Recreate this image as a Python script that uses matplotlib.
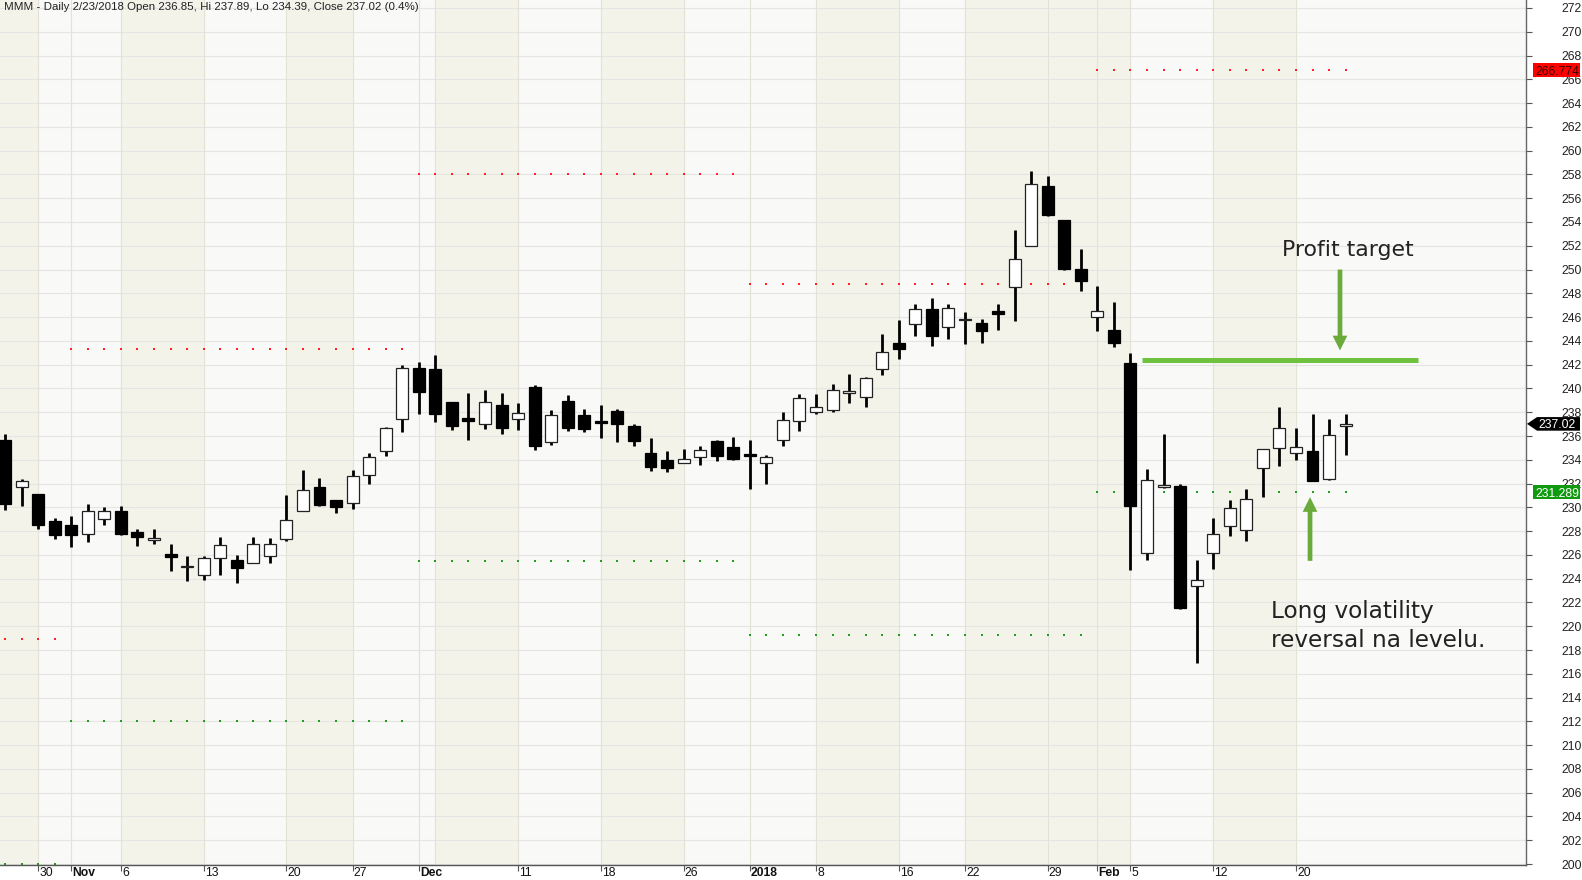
import matplotlib
matplotlib.use("Agg")
import matplotlib.pyplot as plt
import matplotlib.transforms as mtransforms
from matplotlib.patches import Polygon
import numpy as np

title = "MMM - Daily 2/23/2018 Open 236.85, Hi 237.89, Lo 234.39, Close 237.02 (0.4%)"

# daily candles, Oct 26 2017 .. Feb 23 2018 (trading-day index 0..81)
opens = [235.7, 231.7, 231.1, 228.85, 228.5, 227.76, 229.0, 229.7, 227.9, 227.3,
         226.1, 225.0, 224.3, 225.7, 225.6, 225.35, 225.9, 227.35, 229.7, 231.7,
         230.65, 230.4, 232.75, 234.7, 237.45, 241.75, 241.6, 238.85, 237.55, 237.05,
         238.6, 237.45, 240.15, 235.5, 238.95, 237.8, 237.2, 238.1, 236.8, 234.6,
         234.0, 233.7, 234.2, 235.6, 235.1, 234.45, 233.7, 235.65, 237.25, 238.0,
         238.2, 239.6, 239.3, 241.6, 243.85, 245.4, 246.7, 245.2, 245.75, 245.5,
         246.55, 248.55, 252.0, 257.0, 254.15, 250.05, 246.0, 244.95, 242.1, 226.15,
         231.75, 231.8, 223.4, 226.15, 228.4, 228.1, 233.35, 234.95, 234.6, 234.7,
         232.4, 236.85]
highs = [236.2, 232.4, 231.1, 229.1, 229.3, 230.3, 230.05, 230.15, 228.2, 228.15,
         226.9, 225.95, 225.95, 227.5, 226.0, 227.5, 227.4, 231.05, 233.15, 232.5,
         230.65, 233.15, 234.55, 236.75, 242.0, 242.2, 242.85, 238.9, 239.65, 239.85,
         239.6, 238.8, 240.3, 238.2, 239.45, 238.25, 238.6, 238.3, 237.05, 235.85,
         234.7, 234.9, 235.15, 235.7, 235.9, 235.7, 234.4, 238.05, 239.5, 239.5,
         240.35, 241.2, 241.0, 244.6, 245.75, 247.1, 247.6, 247.1, 246.45, 245.8,
         247.1, 253.3, 258.3, 257.85, 254.2, 251.7, 248.6, 247.3, 243.0, 233.25,
         236.15, 231.95, 225.6, 229.1, 230.6, 231.55, 234.9, 238.45, 236.65, 237.85,
         237.4, 237.89]
lows = [229.8, 230.1, 228.2, 227.3, 226.7, 227.1, 228.5, 227.65, 226.75, 226.95,
        224.65, 223.8, 223.85, 224.3, 223.6, 225.35, 225.35, 227.15, 229.7, 230.15,
        229.5, 229.85, 232.0, 234.3, 236.35, 237.85, 237.2, 236.5, 235.65, 236.55,
        236.15, 236.5, 234.8, 235.25, 236.45, 236.3, 235.8, 235.5, 235.15, 233.05,
        233.0, 233.7, 233.55, 233.9, 234.0, 231.55, 232.0, 235.15, 236.45, 237.85,
        238.0, 238.75, 238.4, 241.1, 242.5, 244.45, 243.55, 244.2, 243.7, 243.8,
        244.9, 245.7, 252.0, 254.5, 250.0, 248.2, 244.8, 243.5, 224.7, 225.55,
        231.6, 221.45, 216.95, 224.85, 227.6, 227.2, 230.9, 233.5, 233.95, 232.2,
        232.3, 234.39]
closes = [230.3, 232.2, 228.5, 227.7, 227.7, 229.7, 229.7, 227.8, 227.5, 227.4,
          225.85, 225.05, 225.75, 226.8, 224.9, 226.95, 226.9, 228.95, 231.5, 230.2,
          230.05, 232.6, 234.2, 236.65, 241.75, 239.7, 237.85, 236.85, 237.3, 238.9,
          236.7, 237.95, 235.2, 237.75, 236.65, 236.6, 237.15, 237.0, 235.6, 233.4,
          233.35, 234.1, 234.8, 234.3, 234.05, 234.35, 234.2, 237.35, 239.2, 238.4,
          239.9, 239.8, 240.9, 243.05, 243.3, 246.7, 244.45, 246.75, 245.85, 244.85,
          246.25, 250.9, 257.2, 254.55, 250.05, 249.05, 246.55, 243.8, 230.1, 232.3,
          231.85, 221.5, 223.85, 227.8, 229.95, 230.7, 234.9, 236.65, 235.1, 232.2,
          236.05, 237.02]

tick_pos = [2, 4, 7, 12, 17, 21, 25, 31, 36, 41, 45, 49, 54, 58, 63, 66, 68, 73, 78]
tick_labels = ["30", "Nov", "6", "13", "20", "27", "Dec", "11", "18", "26",
               "2018", "8", "16", "22", "29", "Feb", "5", "12", "20"]
bold_labels = ["Nov", "Dec", "2018", "Feb"]
grid_x = [2, 4, 7, 12, 17, 21, 25, 26, 31, 36, 41, 45, 49, 54, 58, 63, 66, 68, 73, 78]
shade_spans = [(-1, 2), (7, 12), (17, 21), (26, 31), (36, 41), (49, 54), (58, 63), (63, 68), (73, 78)]

# monthly volatility levels
level_start = [0, 4, 25, 45, 66]
level_end = [3, 24, 44, 65, 81]
level_red = [218.9, 243.3, 258.07, 248.75, 266.774]
level_green = [200.0, 212.0, 225.48, 219.29, 231.289]

target_price = 242.42
target_from, target_to = 68.68, 85.38
last_close = 237.02

W, H = 1582, 880
fig = plt.figure(figsize=(W / 100, H / 100), dpi=100, facecolor="white")
ax_bottom_px = 865
ax = fig.add_axes([0, (H - ax_bottom_px) / H, 1526 / W, ax_bottom_px / H])
ax.set_facecolor("#f9f9f8")
ax.set_xlim(-0.305, 91.9)
ax.set_ylim(199.92, 272.67)

for a, b in shade_spans:
    ax.axvspan(a, b, color="#f4f3ea", lw=0, zorder=0)

ax.set_yticks(np.arange(200, 273, 2))
ax.set_yticklabels([f"{v}" for v in range(200, 273, 2)])
ax.yaxis.tick_right()
ax.tick_params(axis="y", length=4, width=0.8, color="#555555", pad=21.6,
               labelsize=8.7, labelcolor="#222222")
for lab in ax.get_yticklabels():
    lab.set_fontfamily("Liberation Sans")
for v in range(200, 273, 2):
    ax.axhline(v, color="#e5e5e3", lw=0.8, zorder=0.5)
for gx in grid_x:
    ax.axvline(gx, color="#e4e2d6", lw=0.8, zorder=0.5)

ax.set_xticks(tick_pos)
ax.set_xticklabels([])
ax.tick_params(axis="x", length=4, width=0.8, color="#555555", direction="out")
for p, t in zip(tick_pos, tick_labels):
    ax.annotate(t, xy=(p, 0), xycoords=("data", "axes fraction"), xytext=(1, -2),
                textcoords="offset pixels", ha="left", va="top", fontsize=8.7,
                family="Liberation Sans", color="#111111",
                fontweight="bold" if t in bold_labels else "normal", annotation_clip=False)

for s in ["left", "top"]:
    ax.spines[s].set_visible(False)
ax.spines["right"].set_color("#666666")
ax.spines["bottom"].set_color("#555555")
ax.spines["right"].set_linewidth(1.0)
ax.spines["bottom"].set_linewidth(1.0)

# level dots
for s, e, r, g in zip(level_start, level_end, level_red, level_green):
    xs = np.arange(s, e + 1)
    ax.plot(xs, np.full(len(xs), r), ls="none", marker="s", ms=1.9, mew=0,
            color="#ff2020", zorder=1, clip_on=False)
    ax.plot(xs, np.full(len(xs), g), ls="none", marker="s", ms=1.9, mew=0,
            color="#1f9e1f", zorder=1, clip_on=False)

# candles
idx = np.arange(len(opens))
bw = 0.72
ax.vlines(idx, lows, highs, color="black", lw=2.0, zorder=2)
for i, o, c in zip(idx, opens, closes):
    lo, hi = min(o, c), max(o, c)
    h = max(hi - lo, 0.12)
    up = c >= o
    ax.bar(i, h, bottom=(lo + hi) / 2 - h / 2, width=bw,
           color="white" if up else "black", edgecolor="#222222" if up else "black",
           lw=0.9, zorder=3)

# profit target line and notes
green_line = "#6fc23d"
green_arrow = "#6aab3b"
ax.plot([target_from, target_to], [target_price, target_price], color=green_line,
        lw=3.6, solid_capstyle="butt", zorder=4, clip_on=False)
arrow_style = "simple,head_length=1.0,head_width=1.0,tail_width=0.32"
ax.annotate("", xy=(80.66, 243.2), xytext=(80.66, 250.0),
            arrowprops=dict(arrowstyle=arrow_style, mutation_scale=10.6,
                            color=green_arrow, lw=0, shrinkA=0, shrinkB=0), zorder=4)
ax.annotate("", xy=(78.85, 230.86), xytext=(78.85, 225.5),
            arrowprops=dict(arrowstyle=arrow_style, mutation_scale=10.6,
                            color=green_arrow, lw=0, shrinkA=0, shrinkB=0), zorder=4)
ax.text(81.15, 251.14, "Profit target", ha="center", va="baseline", fontsize=15.8,
        family="DejaVu Sans", color="#222222", zorder=5)
ax.text(76.47, 220.66, "Long volatility", ha="left", va="baseline", fontsize=16.7,
        family="DejaVu Sans", color="#222222", zorder=5)
ax.text(76.47, 218.28, "reversal na levelu.", ha="left", va="baseline", fontsize=16.7,
        family="DejaVu Sans", color="#222222", zorder=5)

fig.text(4 / W, 1 - 7 / H, title, ha="left", va="center", fontsize=8.25,
         family="Liberation Sans", color="#222222")

# price tags on the right axis
ident = mtransforms.IdentityTransform()


def tag(price, bg, fg, pointed):
    ypix = ax.transData.transform((0, price))[1]
    hh = 6.8
    x0, x1 = 1533, 1580
    if pointed:
        pts = [(1527, ypix), (1537, ypix + hh), (x1, ypix + hh), (x1, ypix - hh), (1537, ypix - hh)]
    else:
        pts = [(x0, ypix + hh), (x1, ypix + hh), (x1, ypix - hh), (x0, ypix - hh)]
    fig.add_artist(Polygon(pts, closed=True, transform=ident, facecolor=bg, edgecolor="none", zorder=5))
    fig.add_artist(plt.Text((x0 + x1) / 2 + 1, ypix, f"{price:g}", transform=ident, ha="center",
                            va="center_baseline", fontsize=8.7, family="Liberation Sans",
                            color=fg, zorder=6))


tag(level_red[-1], "#ff0000", "#3a0000", False)
tag(level_green[-1], "#0f9a0f", "#ffffff", False)
tag(last_close, "#000000", "#ffffff", True)

fig.savefig("out.png", dpi=100, facecolor="white")
